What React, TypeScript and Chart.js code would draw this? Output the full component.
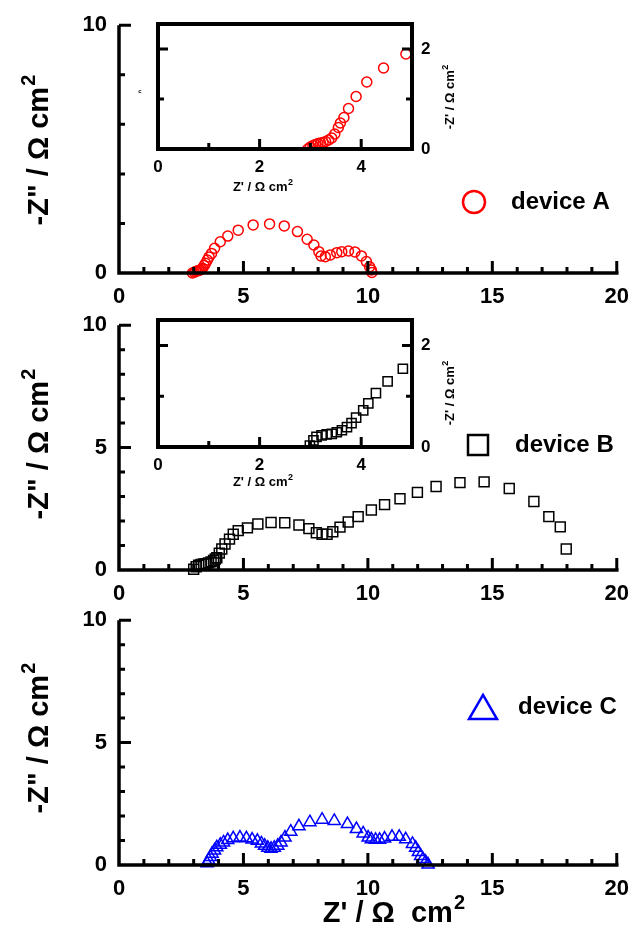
import React, { useEffect, useRef } from "react";
import { Chart, registerables } from "chart.js";

Chart.register(...registerables);

const FAMILY = "'Liberation Sans', Arial, Helvetica, sans-serif";

// ---------------- data (Z' , -Z'') ----------------
const deviceA_Zre = [2.95, 3.02, 3.08, 3.14, 3.2, 3.26, 3.31, 3.36, 3.42, 3.48, 3.55, 3.62, 3.72, 3.84, 4.07, 4.37, 4.79, 5.39, 6.05, 6.64, 7.17, 7.56, 7.83, 8.03, 8.12, 8.29, 8.49, 8.75, 8.95, 9.22, 9.48, 9.74, 9.94, 10.07, 10.14, 10.16];
const deviceA_Zim = [0.0, 0.03, 0.06, 0.08, 0.1, 0.12, 0.15, 0.19, 0.3, 0.39, 0.52, 0.65, 0.79, 1.0, 1.26, 1.49, 1.73, 1.94, 1.98, 1.9, 1.67, 1.36, 1.13, 0.86, 0.69, 0.66, 0.73, 0.82, 0.86, 0.89, 0.85, 0.69, 0.46, 0.25, 0.12, 0.02];

const insetA_Zre = [2.95, 3.0, 3.05, 3.1, 3.15, 3.2, 3.25, 3.3, 3.36, 3.42, 3.48, 3.55, 3.59, 3.66, 3.75, 3.9, 4.11, 4.44, 4.88];
const insetA_Zim = [0.0, 0.04, 0.07, 0.09, 0.11, 0.12, 0.13, 0.15, 0.18, 0.22, 0.3, 0.43, 0.52, 0.63, 0.81, 1.05, 1.34, 1.62, 1.9];

const deviceB_Zre = [3.0, 3.1, 3.2, 3.3, 3.4, 3.5, 3.6, 3.7, 3.8, 3.87, 3.93, 4.03, 4.13, 4.26, 4.44, 4.59, 4.79, 5.16, 5.58, 6.11, 6.66, 7.23, 7.63, 7.93, 8.16, 8.36, 8.59, 8.88, 9.21, 9.61, 10.14, 10.67, 11.29, 11.99, 12.74, 13.7, 14.67, 15.68, 16.67, 17.27, 17.73, 17.97];
const deviceB_Zim = [0.03, 0.13, 0.2, 0.23, 0.25, 0.26, 0.29, 0.33, 0.39, 0.45, 0.5, 0.69, 0.86, 1.06, 1.26, 1.46, 1.61, 1.72, 1.88, 1.94, 1.93, 1.84, 1.69, 1.52, 1.46, 1.46, 1.56, 1.75, 1.96, 2.18, 2.45, 2.67, 2.91, 3.17, 3.41, 3.57, 3.6, 3.33, 2.8, 2.18, 1.76, 0.86];

const insetB_Zre = [2.99, 3.06, 3.12, 3.22, 3.32, 3.42, 3.52, 3.62, 3.72, 3.81, 3.9, 4.04, 4.14, 4.29, 4.52, 4.82];
const insetB_Zim = [0.03, 0.13, 0.2, 0.23, 0.25, 0.26, 0.29, 0.33, 0.39, 0.47, 0.58, 0.72, 0.86, 1.06, 1.29, 1.54];

const deviceC_Zre = [3.54, 3.6, 3.67, 3.74, 3.84, 3.93, 4.07, 4.2, 4.37, 4.59, 4.86, 5.12, 5.35, 5.56, 5.72, 5.85, 5.98, 6.11, 6.24, 6.38, 6.51, 6.67, 6.9, 7.23, 7.67, 8.16, 8.65, 9.18, 9.54, 9.81, 10.01, 10.14, 10.31, 10.47, 10.67, 10.97, 11.26, 11.52, 11.79, 11.92, 12.03, 12.12, 12.21, 12.32, 12.42];
const deviceC_Zim = [0.07, 0.2, 0.33, 0.46, 0.59, 0.72, 0.83, 0.92, 1.02, 1.09, 1.12, 1.09, 1.04, 0.99, 0.88, 0.79, 0.7, 0.66, 0.7, 0.79, 0.92, 1.12, 1.36, 1.58, 1.75, 1.85, 1.8, 1.67, 1.47, 1.29, 1.12, 1.05, 1.03, 1.03, 1.08, 1.15, 1.15, 1.05, 0.86, 0.7, 0.53, 0.37, 0.24, 0.13, 0.02];

// ---------------- tick labels ----------------
const mainXTickLabels = [0, 5, 10, 15, 20];
const panelAYTickLabels = [0, 10];
const panelBCYTickLabels = [0, 5, 10];
const insetXTickLabels = [0, 2, 4];
const insetYTickLabels = [0, 2];

const seriesLabels = ["device A", "device B", "device C"];
const yTitle = '-Z" / Ω cm';
const xTitle = "Z' / Ω  cm";
const insetXTitle = "Z' / Ω cm";
const insetYTitle = "-Z' / Ω cm";
const superscript = "2";

const toPoints = (xs: number[], ys: number[]) => xs.map((x, i) => ({ x, y: ys[i] }));

type Txt = { text: string; sup?: string; x: number; y: number; size: number; rotate?: boolean };

function drawRich(ctx: CanvasRenderingContext2D, t: Txt, dx: number, dy: number) {
  ctx.save();
  ctx.translate(t.x - dx, t.y - dy);
  if (t.rotate) ctx.rotate(-Math.PI / 2);
  ctx.textBaseline = "alphabetic";
  ctx.textAlign = "left";
  const baseFont = `bold ${t.size}px ${FAMILY}`;
  const supSize = Math.round(t.size * 0.68);
  const supFont = `bold ${supSize}px ${FAMILY}`;
  ctx.font = baseFont;
  const wBase = ctx.measureText(t.text).width;
  let wSup = 0;
  if (t.sup) {
    ctx.font = supFont;
    wSup = ctx.measureText(t.sup).width + t.size * 0.04;
  }
  const start = -(wBase + wSup) / 2;
  const base = t.size * 0.36;
  ctx.font = baseFont;
  ctx.fillText(t.text, start, base);
  if (t.sup) {
    ctx.font = supFont;
    ctx.fillText(t.sup, start + wBase + t.size * 0.04, base - t.size * 0.45);
  }
  ctx.restore();
}

const decorPlugin = {
  id: "decor",
  afterDatasetsDraw(chart: any, _args: any, o: any) {
    const { ctx, chartArea: a, scales } = chart;
    const xs = scales.x;
    const ys = scales.y;
    ctx.save();
    ctx.strokeStyle = "#000";
    ctx.fillStyle = "#000";
    ctx.lineCap = "butt";
    ctx.lineJoin = "miter";
    ctx.lineWidth = o.lineWidth;
    ctx.beginPath();
    if (o.box) {
      ctx.rect(a.left, a.top, a.right - a.left, a.bottom - a.top);
    } else {
      ctx.moveTo(a.left, a.top);
      ctx.lineTo(a.left, a.bottom);
      ctx.lineTo(a.right + o.lineWidth / 2, a.bottom);
    }
    ctx.stroke();
    ctx.lineWidth = o.tickWidth;
    ctx.beginPath();
    for (let v = xs.min + o.xStep; v <= xs.max + 1e-9; v += o.xStep) {
      const major = Math.abs(v / o.xMajor - Math.round(v / o.xMajor)) < 1e-6;
      const len = major ? o.majorLen : o.minorLen;
      const px = xs.getPixelForValue(v);
      ctx.moveTo(px, a.bottom);
      ctx.lineTo(px, a.bottom - len);
    }
    for (let v = ys.min + o.yStep; v <= o.yTickMax + 1e-9; v += o.yStep) {
      const major = Math.abs(v / o.yMajor - Math.round(v / o.yMajor)) < 1e-6;
      const len = major ? o.majorLen : o.minorLen;
      const py = ys.getPixelForValue(v);
      ctx.moveTo(a.left, py);
      ctx.lineTo(a.left + len, py);
      if (o.box) {
        ctx.moveTo(a.right, py);
        ctx.lineTo(a.right - len, py);
      }
    }
    ctx.stroke();

    const dx = o.offX || 0;
    const dy = o.offY || 0;
    ctx.fillStyle = "#000";
    for (const t of (o.texts || []) as Txt[]) drawRich(ctx, t, dx, dy);

    const lg = o.legend;
    if (lg) {
      const cx = lg.x - dx;
      const cy = lg.y - dy;
      ctx.strokeStyle = lg.color;
      ctx.lineWidth = lg.lineWidth;
      ctx.beginPath();
      if (lg.shape === "circle") {
        ctx.arc(cx, cy, lg.size / 2, 0, Math.PI * 2);
      } else if (lg.shape === "rect") {
        ctx.rect(cx - lg.size / 2, cy - lg.size / 2, lg.size, lg.size);
      } else {
        const h = lg.size * 0.86;
        ctx.moveTo(cx, cy - h / 2);
        ctx.lineTo(cx + lg.size / 2, cy + h / 2);
        ctx.lineTo(cx - lg.size / 2, cy + h / 2);
        ctx.closePath();
      }
      ctx.stroke();
      ctx.fillStyle = "#000";
      ctx.font = `bold 24px ${FAMILY}`;
      ctx.textAlign = "left";
      ctx.textBaseline = "middle";
      ctx.fillText(lg.label, lg.textX - dx, cy);
    }
    ctx.restore();
  },
};

const tickFont = (size: number) => ({ family: FAMILY, size, weight: "bold" as const });

function mainConfig(p: any) {
  return {
    type: "scatter",
    data: {
      datasets: [
        {
          data: toPoints(p.xs, p.ys),
          pointStyle: p.pointStyle,
          pointRadius: p.radius,
          borderColor: p.color,
          backgroundColor: "rgba(0,0,0,0)",
          borderWidth: 1.5,
          clip: false,
        },
      ],
    },
    options: {
      responsive: false,
      animation: false,
      events: [],
      layout: { padding: { top: p.padTop, left: 0, right: 16, bottom: 0 } },
      plugins: {
        legend: { display: false },
        tooltip: { enabled: false },
        decor: {
          box: false,
          lineWidth: 3.5,
          tickWidth: 3,
          xStep: 1,
          xMajor: 5,
          yStep: p.yStep,
          yMajor: 5,
          yTickMax: 10,
          majorLen: 12,
          minorLen: 6,
          offX: 0,
          offY: p.top,
          texts: p.texts,
          legend: p.legend,
        },
      },
      scales: {
        x: {
          type: "linear",
          position: "bottom",
          min: 0,
          max: 20,
          afterBuildTicks: (s: any) => {
            s.ticks = mainXTickLabels.map((v) => ({ value: v }));
          },
          ticks: { font: tickFont(22), color: "#000", padding: 11, maxRotation: 0, autoSkip: false },
          grid: { display: false, drawTicks: false },
          border: { display: false },
          afterFit: (s: any) => {
            s.height = p.xHeight;
          },
        },
        y: {
          type: "linear",
          position: "left",
          min: 0,
          max: 10,
          afterBuildTicks: (s: any) => {
            s.ticks = p.yLabels.map((v: number) => ({ value: v }));
          },
          ticks: { font: tickFont(22), color: "#000", padding: 12, autoSkip: false },
          grid: { display: false, drawTicks: false },
          border: { display: false },
          afterFit: (s: any) => {
            s.width = 119;
          },
        },
      },
    },
    plugins: [decorPlugin],
  };
}

function insetConfig(p: any) {
  return {
    type: "scatter",
    data: {
      datasets: [
        {
          data: toPoints(p.xs, p.ys),
          pointStyle: p.pointStyle,
          pointRadius: p.radius,
          borderColor: p.color,
          backgroundColor: "rgba(0,0,0,0)",
          borderWidth: 1.5,
        },
      ],
    },
    options: {
      responsive: false,
      animation: false,
      events: [],
      layout: { padding: { top: 24, left: 58, right: 0, bottom: 0 } },
      plugins: {
        legend: { display: false },
        tooltip: { enabled: false },
        decor: {
          box: true,
          lineWidth: 4,
          tickWidth: 3,
          xStep: 1,
          xMajor: 2,
          yStep: 1,
          yMajor: 2,
          yTickMax: 2,
          majorLen: 10,
          minorLen: 6,
          offX: p.left,
          offY: p.top,
          texts: p.texts,
        },
      },
      scales: {
        x: {
          type: "linear",
          position: "bottom",
          min: 0,
          max: 5,
          afterBuildTicks: (s: any) => {
            s.ticks = insetXTickLabels.map((v) => ({ value: v }));
          },
          ticks: { font: tickFont(17), color: "#000", padding: 8, maxRotation: 0, autoSkip: false },
          grid: { display: false, drawTicks: false },
          border: { display: false },
          afterFit: (s: any) => {
            s.height = p.xHeight;
          },
        },
        y: {
          type: "linear",
          position: "right",
          min: 0,
          max: 2.5,
          afterBuildTicks: (s: any) => {
            s.ticks = insetYTickLabels.map((v) => ({ value: v }));
          },
          ticks: { font: tickFont(17), color: "#000", padding: 9, autoSkip: false },
          grid: { display: false, drawTicks: false },
          border: { display: false },
          afterFit: (s: any) => {
            s.width = 68;
          },
        },
      },
    },
    plugins: [decorPlugin],
  };
}

function ChartCanvas({ left, top, width, height, make }: any) {
  const ref = useRef<HTMLCanvasElement>(null);
  useEffect(() => {
    const chart = new Chart(ref.current as HTMLCanvasElement, make() as any);
    return () => chart.destroy();
  }, []);
  return (
    <canvas
      ref={ref}
      width={width}
      height={height}
      style={{ position: "absolute", left, top, width, height, display: "block" }}
    />
  );
}

export default function App() {
  const panelA = () =>
    mainConfig({
      top: 0,
      xs: deviceA_Zre,
      ys: deviceA_Zim,
      color: "#ff0000",
      pointStyle: "circle",
      radius: 5,
      yStep: 2,
      yLabels: panelAYTickLabels,
      padTop: 25,
      xHeight: 37,
      texts: [{ text: yTitle, sup: superscript, x: 38, y: 150, size: 29, rotate: true }],
      legend: { shape: "circle", color: "#ff0000", x: 474, y: 202, size: 22, lineWidth: 2.5, label: seriesLabels[0], textX: 511 },
    });
  const panelB = () =>
    mainConfig({
      top: 300,
      xs: deviceB_Zre,
      ys: deviceB_Zim,
      color: "#000000",
      pointStyle: "rect",
      radius: 7,
      yStep: 1,
      yLabels: panelBCYTickLabels,
      padTop: 18,
      xHeight: 35,
      texts: [{ text: yTitle, sup: superscript, x: 38, y: 444, size: 29, rotate: true }],
      legend: { shape: "rect", color: "#000000", x: 478, y: 445, size: 20, lineWidth: 2.5, label: seriesLabels[1], textX: 515 },
    });
  const panelC = () =>
    mainConfig({
      top: 595,
      xs: deviceC_Zre,
      ys: deviceC_Zim,
      color: "#0000ff",
      pointStyle: "triangle",
      radius: 7,
      yStep: 1,
      yLabels: panelBCYTickLabels,
      padTop: 17,
      xHeight: 64,
      texts: [
        { text: yTitle, sup: superscript, x: 38, y: 738, size: 29, rotate: true },
        { text: xTitle, sup: superscript, x: 394, y: 912, size: 29 },
      ],
      legend: { shape: "triangle", color: "#0000ff", x: 483, y: 707, size: 28, lineWidth: 2.5, label: seriesLabels[2], textX: 518 },
    });
  const insetA = () =>
    insetConfig({
      left: 100,
      top: 0,
      xs: insetA_Zre,
      ys: insetA_Zim,
      color: "#ff0000",
      pointStyle: "circle",
      radius: 5,
      xHeight: 51,
      texts: [
        { text: insetXTitle, sup: superscript, x: 263, y: 186, size: 13 },
        { text: insetYTitle, sup: superscript, x: 449, y: 97, size: 13, rotate: true },
        { text: "c", x: 140, y: 91, size: 6 },
      ],
    });
  const insetB = () =>
    insetConfig({
      left: 100,
      top: 296,
      xs: insetB_Zre,
      ys: insetB_Zim,
      color: "#000000",
      pointStyle: "rect",
      radius: 6.5,
      xHeight: 49,
      texts: [
        { text: insetXTitle, sup: superscript, x: 263, y: 481, size: 13 },
        { text: insetYTitle, sup: superscript, x: 449, y: 393, size: 13, rotate: true },
      ],
    });

  return (
    <div style={{ position: "absolute", left: 0, top: 0, width: 640, height: 929, background: "#fff", overflow: "hidden" }}>
      <ChartCanvas left={0} top={0} width={640} height={310} make={panelA} />
      <ChartCanvas left={0} top={300} width={640} height={305} make={panelB} />
      <ChartCanvas left={0} top={595} width={640} height={334} make={panelC} />
      <ChartCanvas left={100} top={0} width={380} height={200} make={insetA} />
      <ChartCanvas left={100} top={296} width={380} height={200} make={insetB} />
    </div>
  );
}
